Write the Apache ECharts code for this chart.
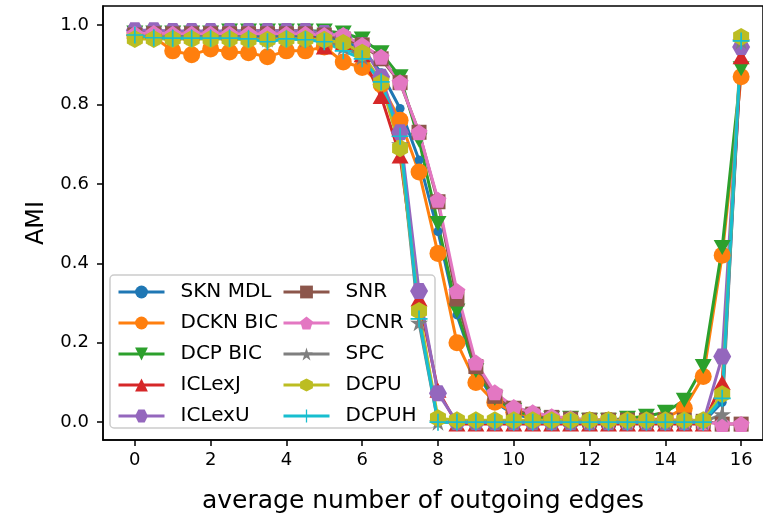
<!DOCTYPE html>
<html>
<head>
<meta charset="utf-8">
<script src="https://cdn.jsdelivr.net/npm/echarts@6/dist/echarts.min.js"></script>
<style>html,body{margin:0;padding:0;background:#fff}#c{width:763px;height:519px}</style>
</head>
<body>
<div id="c"></div>
<script>
// ---- data ----
var xs = [0,0.5,1,1.5,2,2.5,3,3.5,4,4.5,5,5.5,6,6.5,7,7.5,8,8.5,9,9.5,10,10.5,11,11.5,12,12.5,13,13.5,14,14.5,15,15.5,16];
var xTicks = [0,2,4,6,8,10,12,14,16];
var yTicks = [0,0.2,0.4,0.6,0.8,1.0];
var seriesNames = ['SKN MDL','DCKN BIC','DCP BIC','ICLexJ','ICLexU','SNR','DCNR','SPC','DCPU','DCPUH'];
var sknMdl  = [0.98,0.98,0.975,0.975,0.975,0.975,0.975,0.97,0.975,0.97,0.97,0.96,0.94,0.88,0.79,0.66,0.48,0.27,0.13,0.05,0.02,0.01,0.005,0,0,0,0,0,0,0,0,0.05,0.93];
var dcknBic = [0.975,0.97,0.935,0.925,0.94,0.932,0.93,0.92,0.935,0.935,0.945,0.907,0.893,0.85,0.76,0.63,0.425,0.2,0.1,0.05,0.025,0.015,0.01,0.005,0.005,0.005,0.005,0.005,0.01,0.035,0.115,0.42,0.87];
var dcpBic  = [0.98,0.98,0.98,0.98,0.98,0.985,0.985,0.985,0.985,0.985,0.985,0.98,0.965,0.93,0.87,0.71,0.5,0.28,0.13,0.06,0.03,0.015,0.01,0.01,0.005,0.005,0.01,0.015,0.025,0.055,0.14,0.44,0.89];
var iclexJ  = [0.985,0.985,0.98,0.98,0.985,0.98,0.985,0.985,0.985,0.985,0.945,0.955,0.925,0.82,0.67,0.31,0.08,-0.005,-0.005,-0.005,-0.005,-0.005,-0.005,-0.005,-0.005,-0.005,-0.005,-0.005,-0.005,-0.005,-0.005,0.1,0.92];
var iclexU  = [0.987,0.987,0.985,0.985,0.985,0.985,0.985,0.985,0.985,0.985,0.98,0.97,0.95,0.87,0.73,0.33,0.073,0,0,0,0,0,0,0,0,0,0,0,0,0,0,0.165,0.945];
var snr     = [0.975,0.978,0.978,0.978,0.978,0.978,0.978,0.978,0.978,0.978,0.975,0.965,0.95,0.915,0.855,0.73,0.555,0.31,0.14,0.065,0.035,0.02,0.012,0.008,0.005,0.005,0.005,0.005,0.005,0.005,0.002,-0.005,-0.005];
var dcnr    = [0.978,0.98,0.978,0.978,0.978,0.978,0.978,0.978,0.978,0.978,0.975,0.975,0.95,0.92,0.856,0.73,0.56,0.33,0.15,0.075,0.038,0.025,0.015,0.01,0.005,0.005,0.005,0.005,0.005,0.005,0,-0.005,-0.005];
var spc     = [0.97,0.97,0.97,0.97,0.97,0.97,0.968,0.965,0.968,0.965,0.963,0.945,0.92,0.86,0.7,0.25,0,0,0,0,0,0,0,0,0,0,0,0,0,0,0,0.02,0.96];
var dcpu    = [0.965,0.965,0.965,0.965,0.965,0.965,0.963,0.963,0.965,0.965,0.963,0.955,0.93,0.855,0.69,0.28,0.01,0.005,0.005,0.005,0.005,0.005,0.005,0.005,0.005,0.005,0.005,0.005,0.005,0.005,0.005,0.07,0.97];
var dcpuh   = [0.975,0.968,0.967,0.967,0.967,0.967,0.965,0.958,0.965,0.963,0.958,0.935,0.915,0.857,0.72,0.26,0,0,0,0,0,0,0,0,0,0,0,0,0,0,0,0.06,0.96];

// ---- styling ----
var colors = ['#1f77b4','#ff7f0e','#2ca02c','#d62728','#9467bd','#8c564b','#e377c2','#7f7f7f','#bcbd22','#17becf'];
var HEX_FLAT = 'path://M-1,0 L-0.5,-0.866 L0.5,-0.866 L1,0 L0.5,0.866 L-0.5,0.866 Z';
var HEX_PT = 'path://M0,-1 L0.866,-0.5 L0.866,0.5 L0,1 L-0.866,0.5 L-0.866,-0.5 Z';
var PENT = 'path://M0,-1 L0.951,-0.309 L0.588,0.809 L-0.588,0.809 L-0.951,-0.309 Z';
var STAR = 'path://M0,-1 L0.2245,-0.309 L0.951,-0.309 L0.363,0.118 L0.588,0.809 L0,0.382 L-0.588,0.809 L-0.363,0.118 L-0.951,-0.309 L-0.2245,-0.309 Z';
var PLUS = 'path://M-0.1,-1 L0.1,-1 L0.1,-0.1 L1,-0.1 L1,0.1 L0.1,0.1 L0.1,1 L-0.1,1 L-0.1,0.1 L-1,0.1 L-1,-0.1 L-0.1,-0.1 Z';
var symbols = [
  {s:'circle', size:9},
  {s:'circle', size:17},
  {s:'triangle', size:[17,15], rot:180},
  {s:'triangle', size:[17,15]},
  {s:HEX_FLAT, size:[18,16]},
  {s:'rect', size:15},
  {s:PENT, size:[17,16]},
  {s:STAR, size:[18,17]},
  {s:HEX_PT, size:[16,18]},
  {s:PLUS, size:17}
];
var values = [sknMdl,dcknBic,dcpBic,iclexJ,iclexU,snr,dcnr,spc,dcpu,dcpuh];

var series = values.map(function(v,i){
  return {
    name: seriesNames[i], type:'line',
    data: xs.map(function(x,j){return [x, v[j]];}),
    symbol: symbols[i].s, symbolSize: symbols[i].size, symbolRotate: symbols[i].rot || 0,
    showAllSymbol: true, clip: false,
    lineStyle:{color:colors[i], width:3},
    itemStyle:{color:colors[i], opacity:1},
    emphasis:{disabled:true}, animation:false
  };
});

var font = 'DejaVu Sans';
var legendCommon = {
  orient:'vertical', itemWidth:46, itemHeight:16, itemGap:11, padding:0,
  lineStyle:{width:3},
  textStyle:{fontFamily:font, fontSize:20, color:'#000', lineHeight:20, padding:[0,0,0,11]},
  inactiveColor:'#ccc', selectedMode:false, z:10
};

var chart = echarts.init(document.getElementById('c'), null, {renderer:'canvas'});
chart.setOption({
  animation:false,
  color: colors,
  grid:{left:103, top:6, width:662, height:434, show:true, borderColor:'#000', borderWidth:1.5, backgroundColor:'transparent'},
  xAxis:{
    type:'value', min:-0.84, max:16.577,
    name:'average number of outgoing edges', nameLocation:'middle', nameGap:49,
    nameTextStyle:{fontFamily:font, fontSize:25, color:'#000', padding:[0,20,0,0]},
    axisLine:{show:true, onZero:false, lineStyle:{color:'#000', width:1.5}},
    axisTick:{show:true, length:6, lineStyle:{color:'#000', width:1.5}, customValues:xTicks},
    axisLabel:{fontFamily:font, fontSize:18, color:'#000', margin:11, customValues:xTicks},
    splitLine:{show:false}
  },
  yAxis:{
    type:'value', min:-0.045, max:1.048,
    name:'AMI', nameLocation:'middle', nameGap:54, nameRotate:90,
    nameTextStyle:{fontFamily:font, fontSize:24, color:'#000'},
    axisLine:{show:true, onZero:false, lineStyle:{color:'#000', width:1.5}},
    axisTick:{show:true, length:6, lineStyle:{color:'#000', width:1.5}, customValues:yTicks},
    axisLabel:{fontFamily:font, fontSize:18, color:'#000', margin:14, customValues:yTicks,
      formatter:function(v){return v.toFixed(1);}},
    splitLine:{show:false}
  },
  legend:[
    Object.assign({left:117, top:282, data:seriesNames.slice(0,5)}, legendCommon),
    Object.assign({left:282, top:282, data:seriesNames.slice(5)}, legendCommon)
  ],
  graphic:[{
    type:'rect', z:1, shape:{x:110, y:275, width:325, height:153, r:4},
    style:{fill:'rgba(255,255,255,0.8)', stroke:'#cccccc', lineWidth:1.5}
  }],
  series: series
});
</script>
</body>
</html>
